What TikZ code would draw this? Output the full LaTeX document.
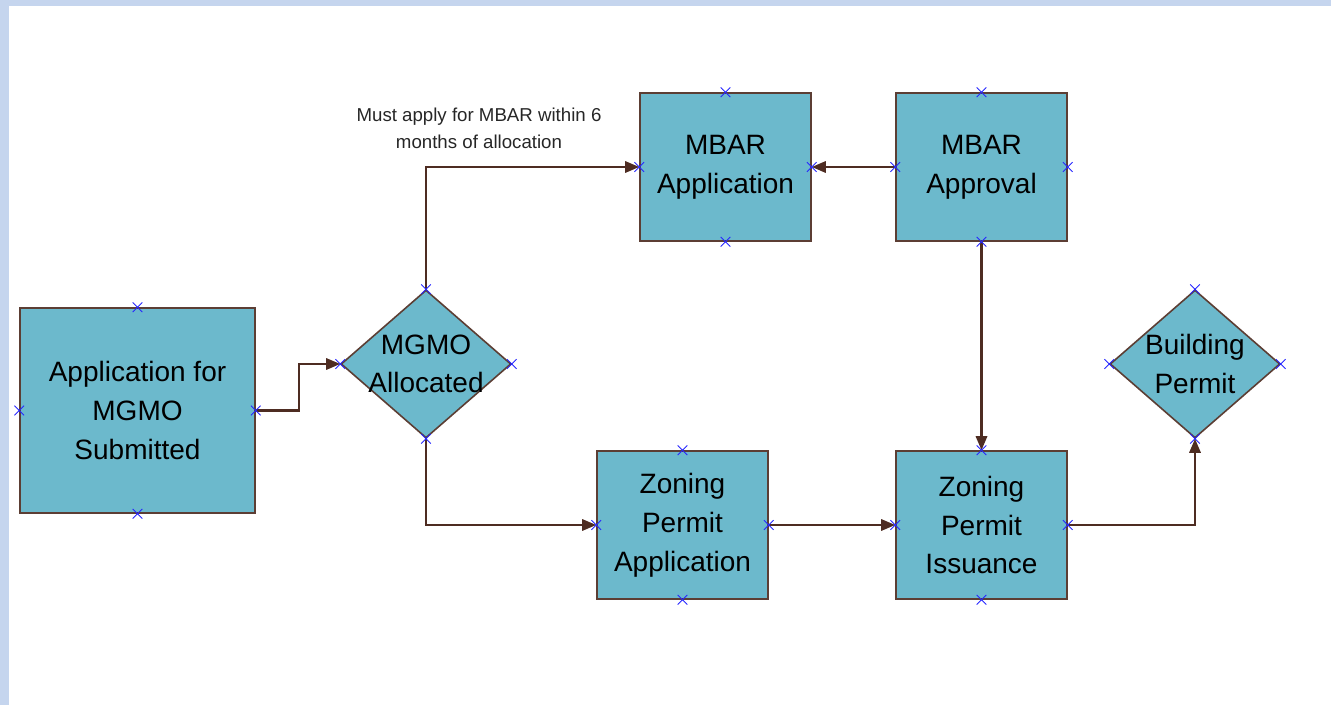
\documentclass[tikz,border=0pt]{standalone}
\usepackage{fontspec}
\setmainfont{Liberation Sans}
\usetikzlibrary{shapes.geometric, shapes.misc, arrows.meta}

\definecolor{boxfill}{RGB}{108,185,204}
\definecolor{boxline}{RGB}{92,62,52}
\definecolor{flowline}{RGB}{78,44,34}
\definecolor{pageframe}{RGB}{197,213,238}

\begin{document}
\begin{tikzpicture}[x = 0.75pt, y = -0.75pt,
		block/.style = {draw = boxline, fill = boxfill, line width = 1.2pt, inner sep = 0pt,
			minimum width = 128.25pt, minimum height = 111pt, align = center,
			font = \fontsize{21}{29.2}\selectfont},
		decision/.style = {diamond, draw = boxline, fill = boxfill, line width = 1.2pt, inner sep = 0pt,
			minimum width = 127.5pt, minimum height = 111pt},
		inlabel/.style = {align = center, font = \fontsize{21}{29}\selectfont},
		flow/.style = {draw = flowline, line width = 1.6pt, -{Triangle[length = 10.5pt, width = 8.5pt]}},
		conncross/.style = {cross out, draw = blue!85, line width = 0.7pt, minimum size = 6.5pt, inner sep = 0pt}]
	\useasboundingbox (0, 0) rectangle (1331, 705);
	\fill[pageframe] (0, 0) rectangle (1331, 6);
	\fill[pageframe] (0, 0) rectangle (9, 705);

	% steps
	\node[block, minimum width = 176.25pt, minimum height = 153.75pt] (app) at (137.5, 410.5) {Application for\\MGMO\\Submitted};
	\node[decision, label = {[inlabel]center:MGMO\\Allocated}] (alloc) at (426, 364) {};
	\node[block] (mbarapp) at (725.5, 167) {MBAR\\Application};
	\node[block] (mbarok) at (981.5, 167) {MBAR\\Approval};
	\node[block] (zpa) at (682.5, 525) {Zoning\\Permit\\Application};
	\node[block] (zpi) at (981.5, 525) {Zoning\\Permit\\Issuance};
	\node[decision, label = {[inlabel]center:Building\\Permit}] (bp) at (1195, 364) {};

	% connectors
	\draw[flow] (app.east) -- ++(43, 0) |- (alloc.west);
	\draw[flow] (alloc.north) |- (mbarapp.west);
		\node[align = center, font = \fontsize{14}{20}\selectfont, text = black!85] (rule) at (479, 128) {Must apply for MBAR within 6\\months of allocation};
	\draw[flow] (mbarok.west) -- (mbarapp.east);
	\draw[flow] (alloc.south) |- (zpa.west);
	\draw[flow] (zpa.east) -- (zpi.west);
	\draw[flow] (mbarok.south) -- (zpi.north);
	\draw[flow] (zpi.east) -| (bp.south);

	% connection points
	\foreach \n in {app, alloc, mbarapp, mbarok, zpa, zpi, bp}
		\foreach \a in {north, south, east, west}
			\node[conncross] at (\n.\a) {};
\end{tikzpicture}
\end{document}
